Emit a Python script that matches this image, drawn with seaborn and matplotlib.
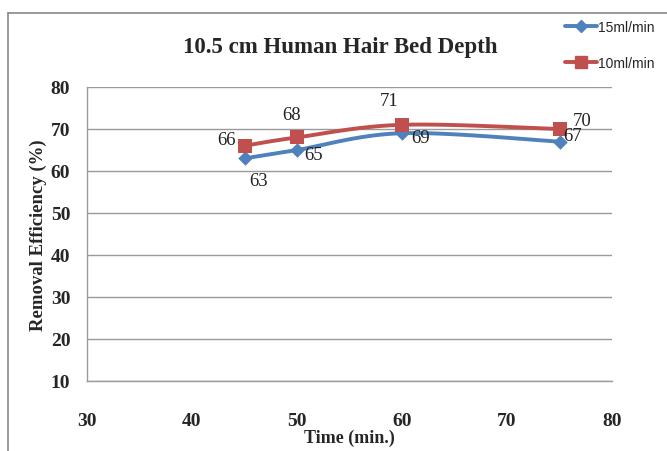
import numpy as np
import pandas as pd
import seaborn as sns
import matplotlib.pyplot as plt
from matplotlib.lines import Line2D

# dados
tempo = [45, 50, 60, 75]
eff_15 = [63, 65, 69, 67]
eff_10 = [66, 68, 71, 70]
series = ["15ml/min", "10ml/min"]

azul = "#4F81BD"
vermelho = "#C0504D"

# deslocamento dos rótulos (px)
desl_15 = [(14, -22), (17, -4), (19, -4), (13, 6)]
desl_10 = [(-18, 6), (-5, 23), (-13, 24), (23, 8)]


def curva_suave(x, y, n=30):
    # linha suavizada no estilo do Excel (Bezier / Catmull-Rom)
    x = np.asarray(x, float)
    y = np.asarray(y, float)
    px = np.concatenate([[x[0]], x, [x[-1]]])
    py = np.concatenate([[y[0]], y, [y[-1]]])
    xs, ys = [], []
    t = np.linspace(0, 1, n)
    for i in range(1, len(px) - 2):
        p0 = np.array([px[i], py[i]])
        p3 = np.array([px[i + 1], py[i + 1]])
        p1 = p0 + (p3 - np.array([px[i - 1], py[i - 1]])) / 6
        p2 = p3 - (np.array([px[i + 2], py[i + 2]]) - p0) / 6
        b = ((1 - t) ** 3)[:, None] * p0 + (3 * (1 - t) ** 2 * t)[:, None] * p1 \
            + (3 * (1 - t) * t ** 2)[:, None] * p2 + (t ** 3)[:, None] * p3
        xs.extend(b[:, 0])
        ys.extend(b[:, 1])
    return xs, ys


sns.set_style("white")
plt.rcParams["font.family"] = ["Liberation Serif", "DejaVu Serif"]

fig = plt.figure(figsize=(6.67, 4.52), dpi=100)
ax = fig.add_axes([87 / 667, 1 - 382 / 452, (612 - 87) / 667, (382 - 88) / 452])

df = pd.DataFrame({"tempo": tempo * 2, "eff": eff_15 + eff_10,
                   "serie": [series[0]] * 4 + [series[1]] * 4})

for serie, cor, marc, tam in [(series[0], azul, "D", 55), (series[1], vermelho, "s", 100)]:
    sub = df[df["serie"] == serie]
    xs, ys = curva_suave(sub["tempo"], sub["eff"])
    ax.plot(xs, ys, color=cor, lw=2.8, zorder=2)
    sns.scatterplot(data=sub, x="tempo", y="eff", color=cor, marker=marc, s=tam,
                    edgecolor=cor, linewidth=0, ax=ax, zorder=3, legend=False)

for x, y, d in zip(tempo, eff_15, desl_15):
    ax.annotate(str(y), (x, y), xytext=(d[0] * 0.72, d[1] * 0.72), textcoords="offset points",
                ha="center", va="center", fontsize=13.5, color="#222222")
for x, y, d in zip(tempo, eff_10, desl_10):
    ax.annotate(str(y), (x, y), xytext=(d[0] * 0.72, d[1] * 0.72), textcoords="offset points",
                ha="center", va="center", fontsize=13.5, color="#222222")

ax.set_xlim(30, 80)
ax.set_ylim(10, 80)
ax.set_xticks(range(30, 81, 10))
ax.set_yticks(range(10, 81, 10))
ax.yaxis.grid(True, color="#9a9a9a", lw=1)
ax.xaxis.grid(False)
for lado in ["top", "right"]:
    ax.spines[lado].set_visible(False)
ax.spines["left"].set_color("#9a9a9a")
ax.spines["bottom"].set_color("#9a9a9a")
ax.spines["left"].set_linewidth(1)
ax.spines["bottom"].set_linewidth(1)
ax.tick_params(axis="both", length=0, labelsize=14)
ax.tick_params(axis="x", pad=22)
ax.tick_params(axis="y", pad=12)
for lab in ax.get_xticklabels() + ax.get_yticklabels():
    lab.set_fontweight("bold")

ax.set_xlabel("Time (min.)", fontsize=13, fontweight="bold", labelpad=0)
ax.set_ylabel("Removal Efficiency (%)", fontsize=13.5, fontweight="bold", labelpad=3)

fig.text(340 / 667, 1 - 47 / 452, "10.5 cm Human Hair Bed Depth", ha="center", va="center",
         fontsize=16.5, fontweight="bold")

handles = [Line2D([], [], color=azul, lw=2.8, marker="D", markersize=6),
           Line2D([], [], color=vermelho, lw=2.8, marker="s", markersize=8)]
fig.legend(handles, series, loc="upper left", bbox_to_anchor=(565 / 667, 1 - 21 / 452),
           frameon=False, borderpad=0, borderaxespad=0, handlelength=2.3,
           handletextpad=0.1, labelspacing=1.6,
           prop={"family": ["Liberation Sans", "DejaVu Sans"], "size": 10})

# moldura externa
fig.add_artist(Line2D([8 / 667, 8 / 667], [0, 1 - 14 / 452], color="#888888", lw=1.2))
fig.add_artist(Line2D([8 / 667, 1], [1 - 14 / 452, 1 - 14 / 452], color="#888888", lw=1.2))

fig.savefig("out.png", dpi=100)
